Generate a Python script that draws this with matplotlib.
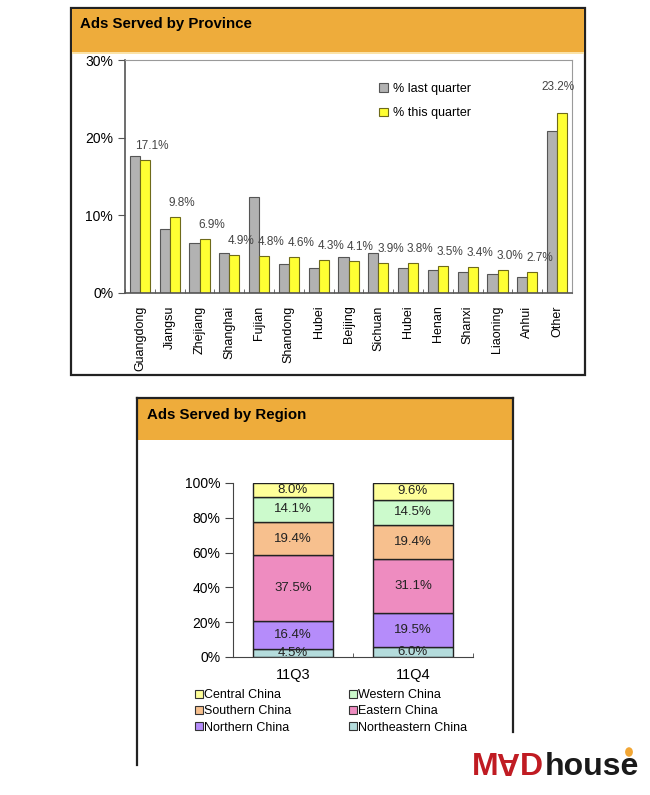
import numpy as np
import matplotlib
matplotlib.use('Agg')
import matplotlib.pyplot as plt
from matplotlib.patches import Rectangle, Patch, Circle
from matplotlib.lines import Line2D

plt.rcParams['font.family'] = ['Liberation Sans', 'DejaVu Sans']

## Datos: anuncios por provincia (%)
provinces = ['Guangdong', 'Jiangsu', 'Zhejiang', 'Shanghai', 'Fujian', 'Shandong',
             'Hubei', 'Beijing', 'Sichuan', 'Hubei', 'Henan', 'Shanxi',
             'Liaoning', 'Anhui', 'Other']
last_quarter = [17.6, 8.2, 6.4, 5.2, 12.3, 3.7, 3.2, 4.6, 5.2, 3.2, 2.9, 2.7, 2.4, 2.1, 20.8]
this_quarter = [17.1, 9.8, 6.9, 4.9, 4.8, 4.6, 4.3, 4.1, 3.9, 3.8, 3.5, 3.4, 3.0, 2.7, 23.2]
prov_yticks = [0, 10, 20, 30]

## Datos: anuncios por region (%)
quarters = ['11Q3', '11Q4']
regions = ['Northeastern China', 'Northern China', 'Eastern China',
           'Southern China', 'Western China', 'Central China']
region_share = {
    'Northeastern China': [4.5, 6.0],
    'Northern China':     [16.4, 19.5],
    'Eastern China':      [37.5, 31.1],
    'Southern China':     [19.4, 19.4],
    'Western China':      [14.1, 14.5],
    'Central China':      [8.0, 9.6],
}
region_colors = {
    'Northeastern China': '#B4DCDC',
    'Northern China':     '#B58CFA',
    'Eastern China':      '#EE8CC0',
    'Southern China':     '#F7C08E',
    'Western China':      '#CCFACC',
    'Central China':      '#FFFF99',
}
region_yticks = [0, 20, 40, 60, 80, 100]

W, H = 650, 795
fig = plt.figure(figsize=(6.5, 7.95), dpi=100)

def fx(px):
    return px / W

def fy(py):
    return 1 - py / H

ORANGE = '#EEAC3B'

########### Marco superior ###########
fig.patches.append(Rectangle((fx(71), fy(375)), fx(585) - fx(71), fy(8) - fy(375),
                             transform=fig.transFigure, facecolor='white',
                             edgecolor='#222222', lw=1.6, zorder=0))
fig.patches.append(Rectangle((fx(72), fy(52)), fx(584) - fx(72), fy(9) - fy(52),
                             transform=fig.transFigure, facecolor=ORANGE,
                             edgecolor='none', zorder=1))
fig.patches.append(Rectangle((fx(72), fy(54)), fx(584) - fx(72), fy(52) - fy(54),
                             transform=fig.transFigure, facecolor='#FBE3A8',
                             edgecolor='none', zorder=1))
fig.text(fx(80), fy(24), 'Ads Served by Province', fontsize=10.8, fontweight='bold',
         va='center', ha='left', color='black')

########### Marco inferior ###########
fig.add_artist(Line2D([fx(137), fx(137)], [fy(398), fy(765)], color='#222222', lw=1.6))
fig.add_artist(Line2D([fx(513), fx(513)], [fy(398), fy(732)], color='#222222', lw=1.6))
fig.add_artist(Line2D([fx(137), fx(513)], [fy(398), fy(398)], color='#222222', lw=1.6))
fig.patches.append(Rectangle((fx(138), fy(440)), fx(512) - fx(138), fy(399) - fy(440),
                             transform=fig.transFigure, facecolor=ORANGE,
                             edgecolor='none', zorder=1))
fig.text(fx(147), fy(415), 'Ads Served by Region', fontsize=10.8, fontweight='bold',
         va='center', ha='left', color='black')

########### Grafico 1: provincias ###########
ax1 = fig.add_axes([fx(125), fy(293), fx(572) - fx(125), fy(60) - fy(293)])
ax1.set_zorder(5)
x = np.arange(len(provinces))
w = 0.34
ax1.bar(x - w / 2, last_quarter, w, color='#B2B2B2', edgecolor='#555555', lw=0.8,
        label='% last quarter')
ax1.bar(x + w / 2, this_quarter, w, color='#FFFF33', edgecolor='#6E6A1A', lw=0.8,
        label='% this quarter')
for i, v in enumerate(this_quarter):
    dx, dy = (7, 14) if i < len(provinces) - 1 else (-4, 26)
    ax1.annotate('%.1f%%' % v, (x[i] + w / 2, v), xytext=(dx, dy),
                 textcoords='offset pixels', ha='center', va='center',
                 fontsize=8.5, color='#444444', annotation_clip=False)
ax1.set_xlim(-0.5, len(provinces) - 0.5)
ax1.set_ylim(0, 30)
ax1.set_yticks(prov_yticks)
ax1.set_yticklabels(['%d%%' % t for t in prov_yticks], fontsize=10)
ax1.set_xticks(x)
ax1.set_xticklabels(provinces, rotation=90, fontsize=9)
ax1.set_xticks(np.arange(len(provinces) + 1) - 0.5, minor=True)
ax1.tick_params(axis='x', which='major', length=0, pad=9)
ax1.tick_params(axis='x', which='minor', direction='in', length=3, color='#555555')
ax1.tick_params(axis='y', direction='out', length=5, pad=3.5, color='#555555')
for s in ['top', 'right']:
    ax1.spines[s].set_color('#9A9A9A')
for s in ['left', 'bottom']:
    ax1.spines[s].set_color('#555555')
    ax1.spines[s].set_linewidth(1.2)
ax1.legend(loc='upper left', bbox_to_anchor=((368 - 125) / (572 - 125), 0.95),
           bbox_transform=ax1.transAxes, frameon=False, fontsize=9,
           handlelength=0.7, handleheight=0.7, handletextpad=0.4, labelspacing=1.0)

########### Grafico 2: regiones ###########
ax2 = fig.add_axes([fx(233), fy(657), fx(473) - fx(233), fy(483) - fy(657)])
ax2.set_zorder(5)
xq = np.arange(len(quarters))
bottom = np.zeros(len(quarters))
for r in regions:
    vals = np.array(region_share[r])
    ax2.bar(xq, vals, 0.67, bottom=bottom, color=region_colors[r],
            edgecolor='#222222', lw=1.0)
    for j, v in enumerate(vals):
        ax2.text(xq[j], bottom[j] + v / 2, '%.1f%%' % v, ha='center', va='center',
                 fontsize=9.5, color='#222222')
    bottom += vals
ax2.set_xlim(-0.5, len(quarters) - 0.5)
ax2.set_ylim(0, 100)
ax2.set_yticks(region_yticks)
ax2.set_yticklabels(['%d%%' % t for t in region_yticks], fontsize=10)
ax2.set_xticks(xq)
ax2.set_xticklabels(quarters, fontsize=10.5)
ax2.set_xticks([-0.5, 0.5, 1.5], minor=True)
ax2.tick_params(axis='x', which='major', length=0, pad=8)
ax2.tick_params(axis='x', which='minor', direction='in', length=3, color='#444444')
ax2.tick_params(axis='y', direction='out', length=6, pad=3, color='#444444')
for s in ['top', 'right']:
    ax2.spines[s].set_visible(False)
for s in ['left', 'bottom']:
    ax2.spines[s].set_color('#444444')

legend_order = ['Central China', 'Southern China', 'Northern China',
                'Western China', 'Eastern China', 'Northeastern China']
handles = [Patch(facecolor=region_colors[r], edgecolor='#333333', lw=0.8) for r in legend_order]
fig.legend(handles, legend_order, ncol=2, loc='upper left',
           bbox_to_anchor=(fx(195), fy(689)), frameon=False, fontsize=9,
           handlelength=0.6, handleheight=0.6, handletextpad=0.15,
           labelspacing=0.35, columnspacing=4.6, borderpad=0, borderaxespad=0)

########### Logo ###########
logo_red = '#C01B22'
fig.text(fx(472), fy(767), 'M', fontsize=23, fontweight='bold', color=logo_red,
         ha='left', va='center')
fig.text(fx(508), fy(760), 'A', fontsize=23, fontweight='bold', color=logo_red,
         ha='center', va='center', rotation=180)
fig.text(fx(520), fy(767), 'D', fontsize=23, fontweight='bold', color=logo_red,
         ha='left', va='center')
fig.text(fx(545), fy(767), 'house', fontsize=23, fontweight='bold', color='#1A1A1A',
         ha='left', va='center')
fig.patches.append(Circle((fx(629), fy(752)), 0.006, transform=fig.transFigure,
                          facecolor='#F2A634', edgecolor='none'))

fig.savefig('out.png', dpi=100)
